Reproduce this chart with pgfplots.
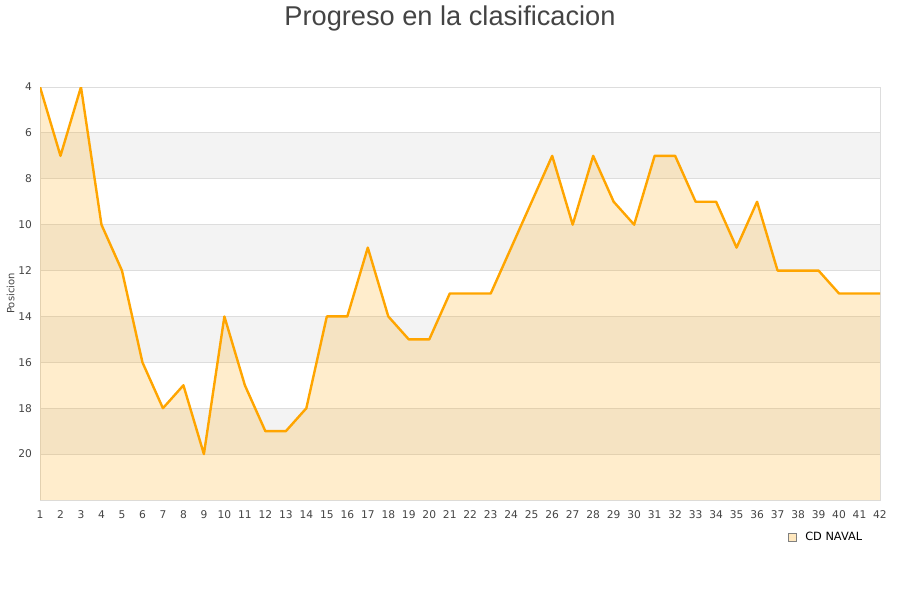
\documentclass[border=0pt]{standalone}
\usepackage{pgfplots}
\pgfplotsset{compat=1.18}
\usepackage{fontspec}
\setmainfont{DejaVu Sans}
\newfontfamily\titlefont{Liberation Sans}
\definecolor{lineorange}{HTML}{FFA500}
\definecolor{band}{HTML}{F3F3F3}
\definecolor{gridc}{HTML}{DDDDDD}
\definecolor{txt}{HTML}{444444}

\pgfplotstableread{
j pos
1 4
2 7
3 4
4 10
5 12
6 16
7 18
8 17
9 20
10 14
11 17
12 19
13 19
14 18
15 14
16 14
17 11
18 14
19 15
20 15
21 13
22 13
23 13
24 11
25 9
26 7
27 10
28 7
29 9
30 10
31 7
32 7
33 9
34 9
35 11
36 9
37 12
38 12
39 12
40 13
41 13
42 13
}\datatable

\begin{document}
\begin{tikzpicture}
\path[use as bounding box] (0,0) rectangle (675pt,450pt);
\node[font=\titlefont\fontsize{20.4}{24}\selectfont, text=txt, anchor=north] at (337.5pt,449pt) {Progreso en la clasificacion};
\begin{axis}[
  at={(30pt,75pt)}, anchor=south west,
  scale only axis, width=630pt, height=309.75pt,
  xmin=1, xmax=42, ymin=4, ymax=22,
  y dir=reverse,
  xtick={1,...,42}, ytick={4,6,...,20},
  tick style={draw=none},
  axis line style={gridc, line width=0.6pt},
  tick label style={font=\fontsize{8}{10}\selectfont, text=txt},
  xticklabel style={yshift=-4.5pt},
  yticklabel style={xshift=-2.5pt},
  /pgf/number format/assume math mode=true,
  ylabel={Posicion}, ylabel style={font=\fontsize{7.5}{9}\selectfont, text=txt},
  ylabel shift=-4pt,
  legend style={at={(0.936,-0.09)}, anchor=center, draw=none, fill=none,
    font=\fontsize{8.5}{10}\selectfont},
  legend cell align=left,
]
% alternating bands; their borders give the grid lines
\addplot[fill=band, draw=gridc, line width=0.6pt, forget plot] coordinates {(1,6) (42,6) (42,8) (1,8)} -- cycle;
\addplot[fill=band, draw=gridc, line width=0.6pt, forget plot] coordinates {(1,10) (42,10) (42,12) (1,12)} -- cycle;
\addplot[fill=band, draw=gridc, line width=0.6pt, forget plot] coordinates {(1,14) (42,14) (42,16) (1,16)} -- cycle;
\addplot[fill=band, draw=gridc, line width=0.6pt, forget plot] coordinates {(1,18) (42,18) (42,20) (1,20)} -- cycle;
% area under the line
\addplot[fill=lineorange, fill opacity=0.2, draw=none,
  legend image code/.code={\draw[fill=lineorange!25, draw=gray, fill opacity=1] (0pt,-3pt) rectangle (6pt,3pt); \path (0pt,0pt) -- (11pt,0pt);}]
  table[x=j, y=pos] {\datatable} -- (axis cs:42,22) -- (axis cs:1,22) -- cycle;
\addlegendentry{CD NAVAL}
\addplot[lineorange, line width=1.8pt, line join=round, forget plot] table[x=j, y=pos] {\datatable};
\end{axis}
\end{tikzpicture}
\end{document}
